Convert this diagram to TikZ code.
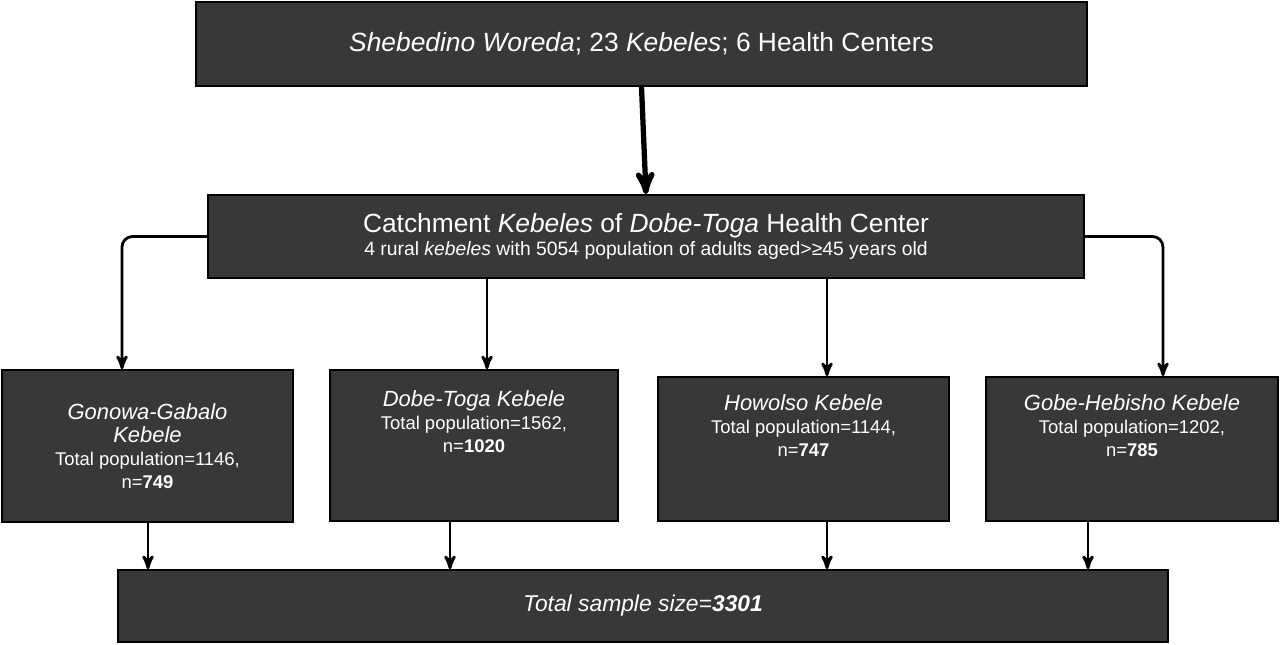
\documentclass[tikz,border=0pt]{standalone}
\usepackage{fontspec}
\setmainfont{Liberation Sans}
\usetikzlibrary{arrows}
\usetikzlibrary{arrows.meta}
\usetikzlibrary{positioning}
\begin{document}
\begin{tikzpicture}
  [
    x=0.02cm,y=-0.02cm,
    box/.style={
      draw=black,
      line width=1pt,
      fill=black!78,
      text=white,
      inner sep=0pt,
      align=center
    },
    flow/.style={>=stealth',->,line width=1.6pt,rounded corners=6pt},
  ]
    \useasboundingbox (0,0) rectangle (1280,645);
    % woreda
    \node [box,minimum width=891*0.02cm,minimum height=84*0.02cm,font=\fontsize{15}{18}\selectfont]
      (woreda) at (641.5,44) {\textit{Shebedino Woreda}; 23 \textit{Kebeles}; 6 Health Centers};
    % catchment
    \node [box,minimum width=876*0.02cm,minimum height=83*0.02cm]
      (catch) at (646,236.5) {{\fontsize{15}{18}\selectfont Catchment \textit{Kebeles} of \textit{Dobe-Toga} Health Center}\\[1pt]
      {\fontsize{11}{13}\selectfont 4 rural \textit{kebeles} with 5054 population of adults aged>≥45 years old}};
    % kebeles
    \node [box,minimum width=291*0.02cm,minimum height=152*0.02cm,font=\fontsize{10.5}{13}\selectfont]
      (gonowa) at (147.5,446) {{\fontsize{12.5}{15}\selectfont\textit{Gonowa-Gabalo}}\\{\fontsize{12.5}{15}\selectfont\textit{Kebele}}\\Total population=1146,\\n=\textbf{749}};
    \node [box,minimum width=288*0.02cm,minimum height=151*0.02cm,font=\fontsize{10.5}{13}\selectfont]
      (dobe) at (474,445.5) {{\fontsize{12.5}{15}\selectfont\textit{Dobe-Toga Kebele}}\\Total population=1562,\\n=\textbf{1020}\\[14pt]};
    \node [box,minimum width=291*0.02cm,minimum height=144*0.02cm,font=\fontsize{10.5}{13}\selectfont]
      (howolso) at (803.5,449) {{\fontsize{12.5}{15}\selectfont\textit{Howolso Kebele}}\\Total population=1144,\\n=\textbf{747}\\[14pt]};
    \node [box,minimum width=292*0.02cm,minimum height=144*0.02cm,font=\fontsize{10.5}{13}\selectfont]
      (gobe) at (1132,449) {{\fontsize{12.5}{15}\selectfont\textit{Gobe-Hebisho Kebele}}\\Total population=1202,\\n=\textbf{785}\\[14pt]};
    % total
    \node [box,minimum width=1050*0.02cm,minimum height=72*0.02cm,font=\fontsize{13}{16}\selectfont]
      (total) at (643,606) {\textit{Total sample size=\textbf{3301}}};
    % arrows
    \draw [flow,line width=3pt] (woreda.south) -- (catch.north);
    \draw [flow] (catch.west) -| (gonowa.north -| 122,0);
    \draw [flow] (catch.east) -| (gobe.north -| 1163,0);
    \draw [flow] (catch.south -| 487,0) -- (dobe.north -| 487,0);
    \draw [flow] (catch.south -| 827,0) -- (howolso.north -| 827,0);
    \foreach \k/\x in {gonowa/148,dobe/450,howolso/827,gobe/1088}
      \draw [flow] (\k.south -| \x,0) -- (total.north -| \x,0);
\end{tikzpicture}
\end{document}
